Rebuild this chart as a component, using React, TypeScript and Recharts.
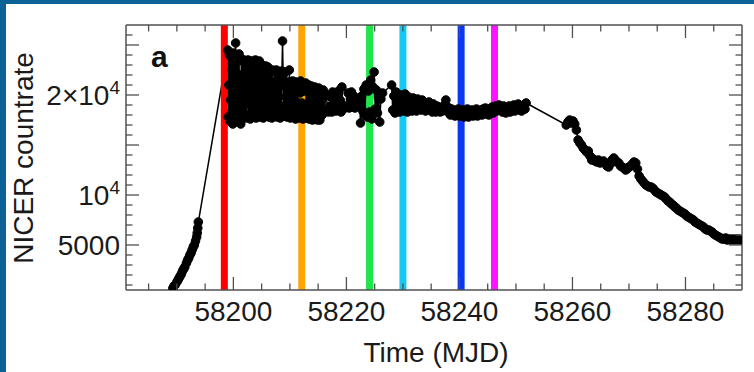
import React from 'react';
import { LineChart, Line, XAxis, YAxis, ReferenceLine } from 'recharts';

// ---------- data ----------
const riseTimes = [
  58189.3, 58189.5, 58189.7, 58190.0, 58190.2, 58190.4, 58190.6, 58190.8, 58191.0, 58191.2,
  58191.4, 58191.7, 58191.9, 58192.1, 58192.3, 58192.5, 58192.7, 58192.9, 58193.1, 58193.3,
  58193.5, 58193.6, 58193.7, 58193.8,
];
const riseRates = [
  700, 900, 1000, 1300, 1500, 1700, 1900, 2100, 2400, 2600,
  2800, 3200, 3500, 3700, 4000, 4200, 4500, 4800, 5000, 5400,
  5800, 6200, 6700, 7300,
];

const flareTimes = [
  58199.0, 58199.1, 58199.2, 58199.3, 58199.4, 58199.5, 58199.6, 58199.7, 58199.8, 58199.9,
  58200.0, 58200.1, 58200.2, 58200.3, 58200.4, 58200.5, 58200.6, 58200.7, 58200.8, 58200.9,
  58201.0, 58201.1, 58201.2, 58201.3, 58201.4, 58201.5, 58201.6, 58201.7, 58201.8, 58201.9,
  58202.0, 58202.1, 58202.2, 58202.3, 58202.4, 58202.5, 58202.6, 58202.7, 58202.8, 58202.9,
  58203.0, 58203.1, 58203.2, 58203.3, 58203.4, 58203.5, 58203.6, 58203.7, 58203.8, 58203.9,
  58204.0, 58204.1, 58204.2, 58204.3, 58204.4, 58204.5, 58204.6, 58204.7, 58204.8, 58204.9,
  58205.0, 58205.1, 58205.2, 58205.3, 58205.4, 58205.5, 58205.6, 58205.7, 58205.8, 58205.9,
  58206.0, 58206.1, 58206.2, 58206.3, 58206.4, 58206.5, 58206.6, 58206.7, 58206.8, 58206.9,
  58207.0, 58207.1, 58207.2, 58207.3, 58207.4, 58207.5, 58207.6, 58207.7, 58207.8, 58207.9,
  58208.0, 58208.1, 58208.2, 58208.3, 58208.4, 58208.5, 58208.6, 58208.7, 58208.8, 58208.9,
  58209.0, 58209.1, 58209.2, 58209.3, 58209.4, 58209.5, 58209.6, 58209.7, 58209.8, 58209.9,
  58210.0, 58210.1, 58210.2, 58210.3, 58210.4, 58210.5, 58210.6, 58210.7, 58210.8, 58210.9,
  58211.0, 58211.1, 58211.2, 58211.3, 58211.4, 58211.5, 58211.6, 58211.7, 58211.8, 58211.9,
  58212.0, 58212.1, 58212.2, 58212.3, 58212.4, 58212.5, 58212.6, 58212.7, 58212.8, 58212.9,
  58213.0, 58213.1, 58213.2, 58213.3, 58213.4, 58213.5, 58213.6, 58213.7, 58213.8, 58213.9,
  58214.0, 58214.1, 58214.2, 58214.3, 58214.4, 58214.5, 58214.6, 58214.7, 58214.8, 58214.9,
  58215.1, 58215.3, 58215.5, 58215.7, 58215.9, 58216.1, 58216.4, 58216.8,
];
const flareRates = [
  24500, 17800, 21000, 24000, 17400, 19500, 23800, 18200, 22500, 17100,
  24200, 19000, 23000, 17600, 25200, 20500, 18000, 23900, 17300, 21800,
  24100, 18500, 22000, 17100, 23600, 17600, 23400, 19800, 17900, 23500,
  21000, 18100, 23200, 17700, 22200, 19200, 23500, 18000, 20800, 23300,
  17600, 22600, 18800, 23400, 17900, 21500, 23000, 18300, 19900, 23500,
  17700, 22800, 18600, 23200, 18000, 20500, 23400, 17800, 22900, 19400,
  18000, 23000, 21000, 17700, 22700, 18500, 20200, 22900, 17900, 21800,
  18400, 22800, 19000, 17800, 22500, 18200, 22400, 20000, 17700, 22500,
  18600, 21300, 17900, 22300, 19400, 18000, 22500, 17800, 21000, 22400,
  18300, 19800, 22200, 17700, 21600, 18900, 22400, 25400, 22000, 18000,
  21200, 17900, 22300, 18600, 20800, 17800, 21300, 19000, 17900, 22500,
  20500, 17700, 21200, 18400, 20600, 21400, 17800, 19600, 21000, 18200,
  17600, 21300, 19300, 18000, 20900, 17700, 21100, 18700, 20200, 21400,
  17900, 19200, 20800, 17600, 21000, 18500, 20400, 17800, 21200, 19000,
  17700, 20700, 18300, 21000, 17600, 20500, 19100, 17900, 20900, 18400,
  17500, 20600, 18900, 17700, 20800, 18200, 17600, 20300, 19000, 17500,
  20700, 17500, 19800, 18000, 20500, 18500, 20000, 18300,
];

const earlyPlateauTimes = [
  58217.1, 58217.25, 58217.4, 58217.55, 58217.7, 58217.85, 58218.0, 58218.15, 58218.3, 58218.45,
  58218.6, 58218.75, 58218.9, 58219.05, 58219.2, 58219.35, 58219.5,
  58220.1, 58220.3, 58220.5, 58220.7, 58220.9, 58221.1, 58221.3, 58221.5, 58221.7, 58221.9,
  58222.3, 58222.5, 58222.7, 58222.9, 58223.1, 58223.3, 58223.5, 58223.7, 58223.9, 58224.1,
  58224.3, 58224.5, 58224.7, 58224.9, 58225.1, 58225.3, 58225.5, 58225.7, 58225.9, 58226.1,
  58226.4, 58228.0,
];
const earlyPlateauRates = [
  18900, 19800, 18300, 20300, 18700, 19500, 20100, 18400, 19700, 18600,
  20400, 18900, 19500, 18300, 20800, 19000, 18600,
  18900, 20200, 18700, 19600, 20300, 18800, 19900, 18700, 19400, 18900,
  19600, 17200, 19900, 18400, 20600, 18000, 21000, 17800, 20400, 18300,
  21500, 17600, 20800, 22300, 18600, 20500, 18200, 19800, 17300, 19600,
  20200, 21000,
];

const latePlateauTimes = [
  58228.2, 58228.4, 58228.6, 58228.8, 58229.0, 58229.2, 58229.4, 58229.6, 58229.8, 58230.0,
  58230.2, 58230.4, 58230.6, 58230.8, 58231.0, 58231.2, 58231.4, 58231.6, 58231.8, 58232.0,
  58232.2, 58232.4, 58232.6, 58232.8, 58233.0, 58233.2, 58233.4, 58233.6, 58233.8, 58234.0,
  58234.2, 58234.4, 58234.6, 58234.8, 58235.0, 58235.2, 58235.4, 58235.6, 58235.8, 58236.0,
  58236.2, 58236.4, 58236.6, 58236.8, 58237.0, 58237.2, 58237.4, 58237.6, 58237.8, 58238.0,
  58238.2, 58238.4, 58238.6, 58238.8, 58239.0, 58239.2, 58239.4, 58239.6, 58239.8, 58240.0,
  58240.2, 58240.4, 58240.6, 58240.8, 58241.0, 58241.2, 58241.4, 58241.6, 58241.8, 58242.0,
  58242.2, 58242.4, 58242.6, 58242.8, 58243.0, 58243.2, 58243.4, 58243.6, 58243.8, 58244.0,
  58244.2, 58244.4, 58244.6, 58244.8, 58245.0, 58245.2, 58245.4, 58245.6, 58245.8, 58246.0,
  58246.2, 58246.4, 58246.6, 58246.8, 58247.0, 58247.2, 58247.4, 58247.6, 58247.8, 58248.0,
  58248.2, 58248.4, 58248.6, 58248.8, 58249.0, 58249.2, 58249.4, 58249.6, 58249.8, 58250.0,
  58250.2, 58250.4, 58250.6, 58250.8, 58251.0, 58251.2, 58251.4, 58251.6, 58251.8,
];
const latePlateauRates = [
  18500, 19900, 18200, 20300, 18800, 19600, 18300, 20000, 18700, 19500,
  18400, 20100, 18900, 18300, 19800, 18600, 19400, 18400, 19700, 18800,
  19300, 18400, 19600, 18700, 19100, 18500, 19500, 18800, 19200, 18400,
  19000, 18600, 19300, 18500, 18900, 18300, 19100, 18600, 18300, 18900,
  18500, 18800, 18300, 18700, 18400, 18900, 18500, 19500, 18800, 18300,
  18700, 18000, 18600, 18200, 18500, 17900, 18400, 18100, 18600, 17900,
  18300, 18000, 18500, 17800, 18400, 18100, 18600, 17800, 18200, 18000,
  18500, 17900, 18300, 18100, 18600, 17900, 18400, 18100, 18500, 18000,
  18600, 18200, 18700, 18100, 18400, 18000, 18600, 18300, 18800, 18200,
  18600, 18900, 18400, 18700, 19000, 18500, 18800, 18300, 18900, 18600,
  18200, 18700, 18400, 18900, 18300, 18800, 18500, 19000, 18400, 18900,
  18600, 19100, 18500, 18900, 18400, 18800, 19000, 18600, 19200,
];

const decayTimes = [
  58258.9, 58259.2, 58259.5, 58259.8, 58260.1, 58260.4, 58260.7, 58261.0, 58261.3, 58261.6,
  58261.9, 58262.2, 58262.5, 58262.8, 58263.1, 58263.4, 58263.7, 58264.0, 58264.3, 58264.6,
  58264.9, 58265.2, 58265.5, 58265.8, 58266.1, 58266.4, 58266.7, 58267.0, 58267.3, 58267.6,
  58267.9, 58268.2, 58268.5, 58268.8, 58269.1, 58269.4, 58269.7, 58270.0, 58270.3, 58270.6,
  58270.9, 58271.2, 58271.5, 58271.8, 58272.1, 58272.4, 58272.7, 58273.0, 58273.3, 58273.6,
  58273.9, 58274.2, 58274.5, 58274.8, 58275.1, 58275.4, 58275.7, 58276.0, 58276.3, 58276.6,
  58276.9, 58277.2, 58277.5, 58277.8, 58278.1, 58278.4, 58278.7, 58279.0, 58279.3, 58279.6,
  58279.9, 58280.2, 58280.5, 58280.8, 58281.1, 58281.4, 58281.7, 58282.0, 58282.3, 58282.6,
  58282.9, 58283.2, 58283.5, 58283.8, 58284.1, 58284.4, 58284.7, 58285.0, 58285.3, 58285.6,
  58285.9, 58286.2, 58286.5, 58286.8, 58287.1, 58287.4, 58287.7, 58288.0, 58288.3, 58288.6,
  58288.9, 58289.2, 58289.5, 58289.8,
];
const decayRates = [
  17000, 17300, 17500, 17200, 17400, 17100, 16500, 15500, 15200, 15000,
  14700, 14500, 14300, 14400, 13900, 13500, 13600, 13400, 13300, 13500,
  13200, 13300, 13400, 13200, 12900, 12800, 13100, 13500, 13700, 13500,
  13300, 13200, 12900, 12800, 12700, 12500, 12600, 12800, 12900, 13100,
  13300, 13200, 12600, 11900, 11600, 11400, 11200, 11000, 10900, 10800,
  10800, 10700, 10500, 10300, 10200, 10100, 10000, 9900, 9800, 9600,
  9400, 9300, 9100, 9000, 8800, 8700, 8500, 8400, 8300, 8200,
  8100, 7900, 7800, 7700, 7600, 7500, 7300, 7200, 7100, 7000,
  6900, 6800, 6600, 6500, 6500, 6400, 6300, 6100, 6000, 5900,
  5800, 5700, 5600, 5600, 5700, 5500, 5600, 5500, 5600, 5500,
  5600, 5500, 5600, 5500,
];

const xTicks = [58185, 58190, 58195, 58200, 58205, 58210, 58215, 58220, 58225, 58230, 58235, 58240, 58245, 58250, 58255, 58260, 58265, 58270, 58275, 58280, 58285];
const xMajorTicks = [58200, 58220, 58240, 58260, 58280];
const yTicks = [1000, 2000, 3000, 4000, 5000, 6000, 7000, 8000, 9000, 10000, 11000, 12000, 13000, 14000, 15000, 16000, 17000, 18000, 19000, 20000, 21000, 22000, 23000, 24000, 25000, 26000];
const yMajorTicks = [5000, 10000, 15000, 20000, 25000];

const bandTimes = [58198.4, 58212.1, 58224.1, 58230.0, 58240.3, 58246.2];
const bandColors = ['#ff0000', '#ffa500', '#1ee64a', '#14c8f5', '#0a37f5', '#ff14ff'];

// ---------- build chart rows ----------
const allTimes = [...riseTimes, ...flareTimes, ...earlyPlateauTimes, ...latePlateauTimes, ...decayTimes];
const allRates = [...riseRates, ...flareRates, ...earlyPlateauRates, ...latePlateauRates, ...decayRates];
const rows = allTimes.map((t, i) => ({ t, rate: allRates[i] }));

const AXIS = '#505050';
const FONT = "'Liberation Sans', Arial, Helvetica, sans-serif";
const MAJOR = 13;
const MINOR = 6.5;

function yLabel(v: number, x: number, y: number) {
  if (v === 5000) {
    return <text x={x} y={y + 10} textAnchor="end" fontSize={28} fill="#1a1a1a" fontFamily={FONT}>5000</text>;
  }
  if (v === 10000) {
    return (
      <text x={x} y={y + 10} textAnchor="end" fontSize={28} fill="#1a1a1a" fontFamily={FONT}>
        10<tspan dy={-11} fontSize={19}>4</tspan>
      </text>
    );
  }
  if (v === 20000) {
    return (
      <text x={x} y={y + 10} textAnchor="end" fontSize={28} fill="#1a1a1a" fontFamily={FONT}>
        2×10<tspan dy={-11} fontSize={19}>4</tspan>
      </text>
    );
  }
  return null;
}

const LeftTick = (p: any) => {
  const v = p.payload.value;
  const len = yMajorTicks.includes(v) ? MAJOR : MINOR;
  return (
    <g>
      <line x1={p.x} x2={p.x + len} y1={p.y} y2={p.y} stroke={AXIS} strokeWidth={1.3} />
      {yLabel(v, p.x - 6, p.y)}
    </g>
  );
};

const RightTick = (p: any) => {
  const v = p.payload.value;
  const len = yMajorTicks.includes(v) ? MAJOR : MINOR;
  return <line x1={p.x} x2={p.x - len} y1={p.y} y2={p.y} stroke={AXIS} strokeWidth={1.3} />;
};

const BottomTick = (p: any) => {
  const v = p.payload.value;
  const major = xMajorTicks.includes(v);
  const len = major ? MAJOR : MINOR;
  return (
    <g>
      <line x1={p.x} x2={p.x} y1={p.y} y2={p.y - len} stroke={AXIS} strokeWidth={1.3} />
      {major && (
        <text x={p.x} y={p.y + 31} textAnchor="middle" fontSize={28} fill="#1a1a1a" fontFamily={FONT}>
          {v}
        </text>
      )}
    </g>
  );
};

const TopTick = (p: any) => {
  const v = p.payload.value;
  const len = xMajorTicks.includes(v) ? MAJOR : MINOR;
  return <line x1={p.x} x2={p.x} y1={p.y} y2={p.y + len} stroke={AXIS} strokeWidth={1.3} />;
};

export default function App() {
  return (
    <div
      style={{
        position: 'absolute',
        left: 0,
        top: 0,
        width: 754,
        height: 372,
        background: '#ffffff',
        overflow: 'hidden',
        fontFamily: FONT,
      }}
    >
      <div style={{ position: 'absolute', left: 0, top: 0, width: 754, height: 4, background: '#0c6197' }} />
      <div style={{ position: 'absolute', left: 0, top: 0, width: 6, height: 372, background: '#0c6197' }} />
      <div style={{ position: 'absolute', left: 0, top: 0 }}>
        <LineChart width={754} height={372} data={rows} margin={{ top: 24, right: 11, bottom: 42, left: 66 }}>
          <XAxis
            xAxisId="bottom"
            dataKey="t"
            type="number"
            domain={[58181, 58290]}
            allowDataOverflow
            ticks={xTicks}
            interval={0}
            height={40}
            tickSize={0}
            tickMargin={0}
            tickLine={false}
            axisLine={{ stroke: AXIS, strokeWidth: 1.5 }}
            tick={(p: any) => <BottomTick {...p} />}
          />
          <XAxis
            xAxisId="top"
            orientation="top"
            dataKey="t"
            type="number"
            domain={[58181, 58290]}
            allowDataOverflow
            ticks={xTicks}
            interval={0}
            height={1}
            tickSize={0}
            tickMargin={0}
            tickLine={false}
            axisLine={{ stroke: AXIS, strokeWidth: 1.5 }}
            tick={(p: any) => <TopTick {...p} />}
          />
          <YAxis
            yAxisId="left"
            type="number"
            domain={[500, 27000]}
            allowDataOverflow
            ticks={yTicks}
            interval={0}
            width={60}
            tickSize={0}
            tickMargin={0}
            tickLine={false}
            axisLine={{ stroke: AXIS, strokeWidth: 1.5 }}
            tick={(p: any) => <LeftTick {...p} />}
          />
          <YAxis
            yAxisId="right"
            orientation="right"
            type="number"
            domain={[500, 27000]}
            allowDataOverflow
            ticks={yTicks}
            interval={0}
            width={1}
            tickSize={0}
            tickMargin={0}
            tickLine={false}
            axisLine={{ stroke: AXIS, strokeWidth: 1.5 }}
            tick={(p: any) => <RightTick {...p} />}
          />
          <Line
            xAxisId="top"
            yAxisId="right"
            dataKey="rate"
            stroke="none"
            dot={false}
            activeDot={false}
            isAnimationActive={false}
          />
          <Line
            xAxisId="bottom"
            yAxisId="left"
            dataKey="rate"
            stroke="#000"
            strokeWidth={1.5}
            dot={{ r: 4.3, fill: '#000', stroke: '#000', strokeWidth: 1 }}
            activeDot={false}
            isAnimationActive={false}
          />
          {bandTimes.map((t, i) => (
            <ReferenceLine key={i} xAxisId="bottom" yAxisId="left" x={t} stroke={bandColors[i]} strokeWidth={7} />
          ))}
        </LineChart>
      </div>
      <svg width={754} height={372} style={{ position: 'absolute', left: 0, top: 0, pointerEvents: 'none' }}>
        <text x={151} y={67} fontSize={30} fontWeight="bold" fill="#111" fontFamily={FONT}>a</text>
        <text x={436} y={362} textAnchor="middle" fontSize={28} fill="#1a1a1a" fontFamily={FONT}>Time (MJD)</text>
        <text
          x={33}
          y={158}
          textAnchor="middle"
          fontSize={28}
          fill="#1a1a1a"
          fontFamily={FONT}
          transform="rotate(-90 33 158)"
        >
          NICER countrate
        </text>
      </svg>
    </div>
  );
}
